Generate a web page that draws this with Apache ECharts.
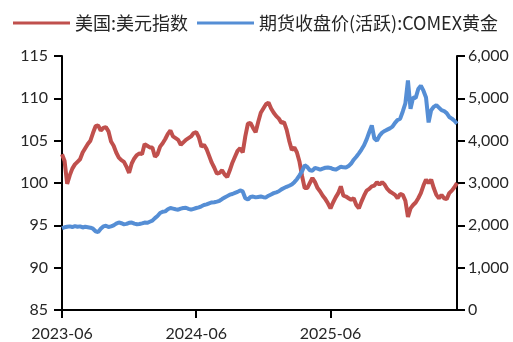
<!DOCTYPE html>
<html>
<head>
<meta charset="utf-8">
<script src="https://cdn.jsdelivr.net/npm/echarts@6/dist/echarts.min.js"></script>
<style>
  html, body { margin: 0; padding: 0; background: #fff; }
  #chart { width: 513px; height: 342px; }
</style>
</head>
<body>
<div id="chart"></div>
<script>
// Weekly observations, starting 2023-06-07
const startDate = '2023-06-07';

// 美国:美元指数 (left axis)
const dollarIndex = [
  103.4, 102.6, 99.9, 100.9, 101.7, 102.2, 102.5, 102.8, 103.6, 104.1,
  104.6, 105.0, 105.9, 106.7, 106.8, 106.2, 106.5, 106.6, 106.1, 104.9,
  104.4, 103.6, 103.0, 102.7, 102.5, 101.9, 101.2, 102.3, 102.9, 103.3,
  103.5, 103.4, 104.6, 104.4, 104.2, 104.2, 103.1, 103.4, 104.3, 104.7,
  105.2, 105.8, 106.2, 105.5, 105.3, 105.1, 104.5, 104.8, 105.1, 105.3,
  105.5, 105.9, 106.0, 105.4, 104.3, 104.5, 104.0, 103.2, 102.4, 101.8,
  101.1, 101.2, 101.5, 101.0, 100.7, 101.5, 102.4, 103.1, 103.8, 104.1,
  103.6, 105.5, 107.0, 107.1, 106.5, 106.0, 107.2, 108.3, 108.8, 109.3,
  109.5, 108.8, 108.3, 107.9, 107.6, 107.1, 107.2, 106.3, 105.0, 103.9,
  104.2, 103.6, 102.5, 100.8, 99.4, 99.4, 100.0, 100.6, 100.1, 99.4,
  99.0, 98.5, 98.1, 97.6, 97.0, 97.7, 98.3, 98.8, 99.6, 98.5,
  98.4, 98.2, 98.0, 98.2, 97.4, 97.0, 97.8, 98.5, 99.1, 99.3,
  99.6, 99.7, 100.1, 99.8, 100.1, 99.8, 99.3, 99.0, 98.8, 98.6,
  98.2, 98.7, 98.6, 97.9, 96.0, 97.0, 97.4, 97.7, 98.2, 98.8,
  99.7, 100.4, 100.0, 100.4, 99.4, 98.6, 98.2, 98.6, 98.2, 98.1,
  98.8, 99.1, 99.5, 100.0
];

// 期货收盘价(活跃):COMEX黄金 (right axis)
const goldClose = [
  1930, 1955, 1965, 1975, 1960, 1980, 1965, 1975, 1950, 1965,
  1955, 1945, 1920, 1860, 1840, 1920, 1975, 1990, 1960, 1975,
  2000, 2040, 2068, 2050, 2025, 2035, 2060, 2068, 2040, 2025,
  2030, 2045, 2065, 2060, 2085, 2110, 2170, 2220, 2290, 2320,
  2330, 2380, 2410, 2395, 2380, 2370, 2395, 2410, 2415, 2390,
  2370, 2390, 2410, 2425, 2450, 2480, 2495, 2520, 2540, 2545,
  2560, 2580, 2620, 2655, 2690, 2725, 2740, 2765, 2790, 2825,
  2800, 2640, 2610, 2670, 2680, 2660, 2670, 2680, 2665, 2660,
  2700, 2730, 2760, 2780, 2805, 2850, 2880, 2910, 2935, 2965,
  3020, 3090, 3180, 3280, 3420, 3380, 3300, 3290, 3355, 3340,
  3315, 3340, 3360, 3365, 3355, 3330, 3315, 3350, 3385, 3370,
  3365, 3400, 3460, 3550, 3620, 3700, 3790, 3890, 4030, 4200,
  4360, 4050, 4000, 4120, 4190, 4230, 4260, 4290, 4330, 4420,
  4490, 4520, 4690, 4880, 5420, 4750, 5020, 5010, 5220, 5300,
  5180, 5020, 4430, 4720, 4800, 4840, 4780, 4720, 4700, 4650,
  4560, 4520, 4470, 4400
];

const seriesNames = ['美国:美元指数', '期货收盘价(活跃):COMEX黄金'];
const leftTicks = { min: 85, max: 115, interval: 5 };
const rightTicks = { min: 0, max: 6000, interval: 1000 };

// weekly date categories
const dates = [];
{
  const d0 = new Date(startDate + 'T00:00:00Z');
  for (let i = 0; i < dollarIndex.length; i++) {
    const d = new Date(d0.getTime() + i * 7 * 86400000);
    dates.push(d.toISOString().slice(0, 10));
  }
}

// show a tick and label at the first week of each June
const isJuneStart = (idx, value) =>
  value.slice(5, 7) === '06' && Number(value.slice(8, 10)) <= 7;

const axisColor = '#000';
const textColor = '#262626';
const numFont = 'Lato, "Open Sans", sans-serif';

const chart = echarts.init(document.getElementById('chart'), null, { renderer: 'canvas' });
chart.setOption({
  animation: false,
  backgroundColor: '#fff',
  legend: {
    data: seriesNames,
    left: 8,
    top: 9,
    icon: 'rect',
    itemWidth: 57,
    itemHeight: 3,
    itemGap: 9,
    textStyle: {
      fontFamily: '"Noto Sans CJK SC", sans-serif',
      fontSize: 18,
      color: textColor
    }
  },
  grid: { left: 62, right: 56, top: 56, bottom: 31, containLabel: false },
  xAxis: {
    type: 'category',
    data: dates,
    boundaryGap: false,
    axisLine: { lineStyle: { color: axisColor, width: 2 } },
    axisTick: { interval: isJuneStart, length: 8, lineStyle: { color: axisColor, width: 2 } },
    axisLabel: {
      interval: isJuneStart,
      formatter: v => v.slice(0, 7),
      margin: 16,
      fontFamily: numFont,
      fontSize: 16,
      color: textColor
    },
    splitLine: { show: false }
  },
  yAxis: [
    {
      type: 'value',
      min: leftTicks.min,
      max: leftTicks.max,
      interval: leftTicks.interval,
      axisLine: { show: true, lineStyle: { color: axisColor, width: 2 } },
      axisTick: { show: true, length: 8, lineStyle: { color: axisColor, width: 2 } },
      axisLabel: { margin: 14, fontFamily: numFont, fontSize: 16, color: textColor },
      splitLine: { show: false }
    },
    {
      type: 'value',
      position: 'right',
      min: rightTicks.min,
      max: rightTicks.max,
      interval: rightTicks.interval,
      axisLine: { show: true, lineStyle: { color: axisColor, width: 2 } },
      axisTick: { show: true, length: 8, lineStyle: { color: axisColor, width: 2 } },
      axisLabel: {
        margin: 11,
        fontFamily: numFont,
        fontSize: 16,
        color: textColor,
        formatter: v => v.toLocaleString('en-US')
      },
      splitLine: { show: false }
    }
  ],
  series: [
    {
      name: seriesNames[0],
      type: 'line',
      yAxisIndex: 0,
      data: dollarIndex,
      symbol: 'none',
      lineStyle: { color: '#C0504D', width: 4 },
      itemStyle: { color: '#C0504D' }
    },
    {
      name: seriesNames[1],
      type: 'line',
      yAxisIndex: 1,
      data: goldClose,
      symbol: 'none',
      lineStyle: { color: '#558ED5', width: 4 },
      itemStyle: { color: '#558ED5' }
    }
  ]
});
</script>
</body>
</html>
